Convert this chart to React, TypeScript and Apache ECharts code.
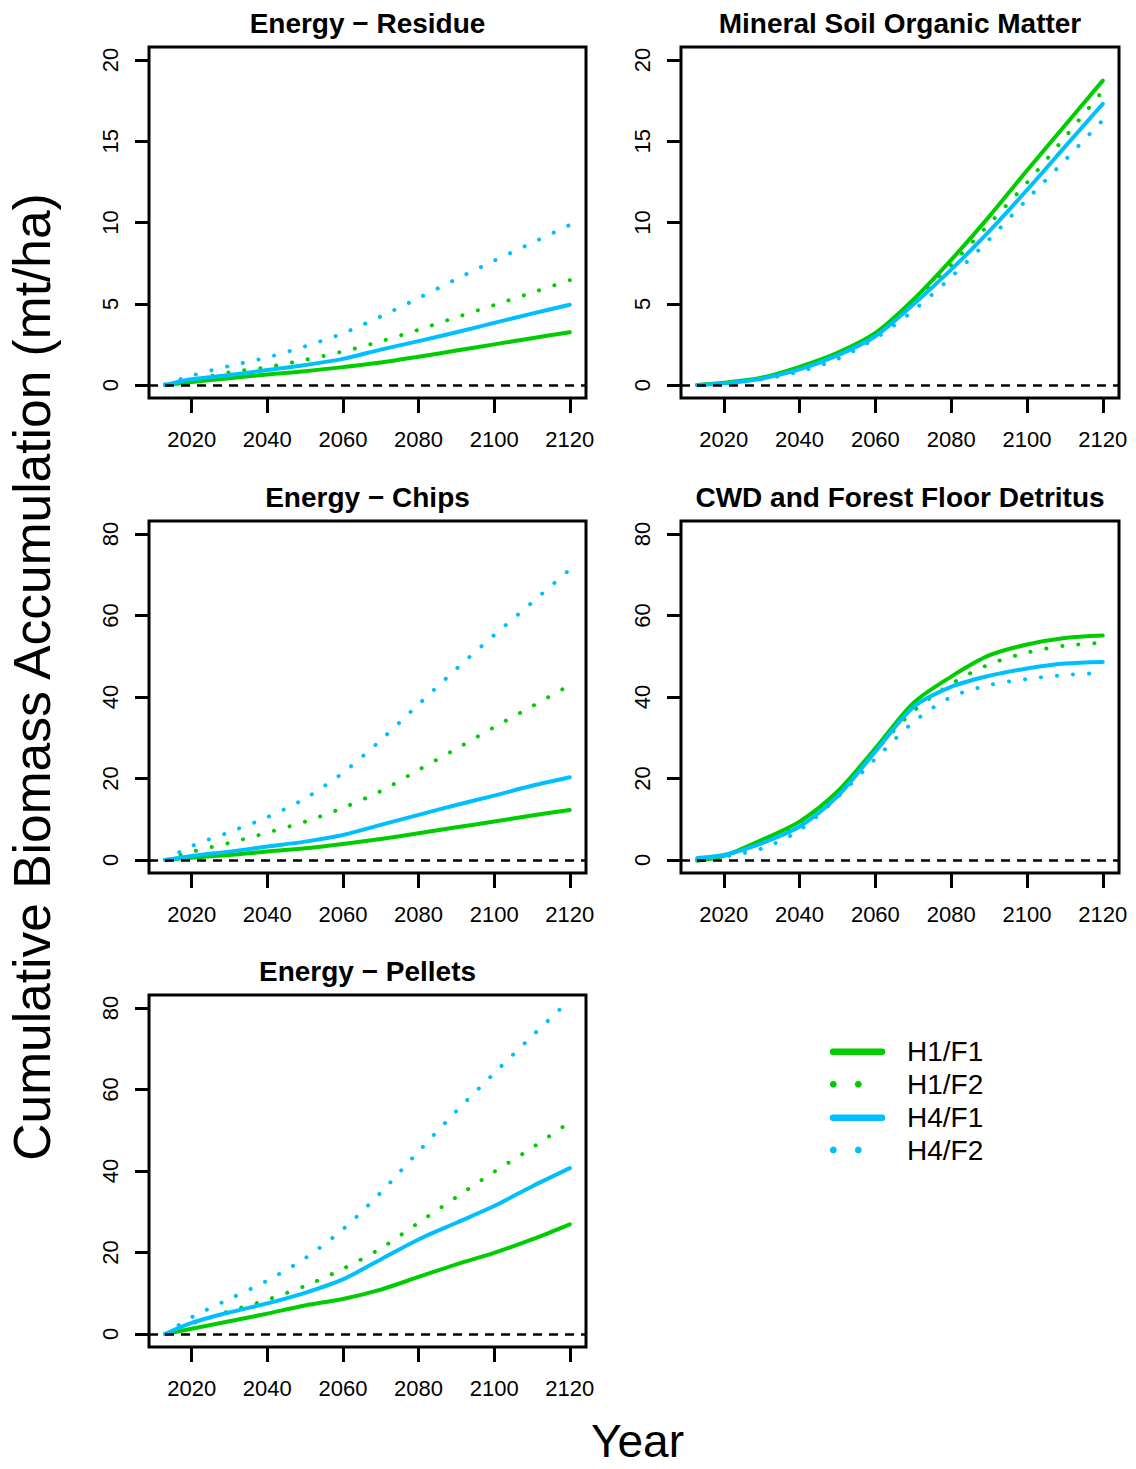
import React, { useEffect, useRef } from "react";
import * as echarts from "echarts";

// ---------- DATA ----------
const YEARS = [2013, 2020, 2030, 2040, 2050, 2060, 2070, 2080, 2090, 2100, 2110, 2120];
const X_TICKS = [2020, 2040, 2060, 2080, 2100, 2120];
const Y_TICKS_20 = [0, 5, 10, 15, 20];
const Y_TICKS_80 = [0, 20, 40, 60, 80];
const SERIES_NAMES = ["H1/F1", "H1/F2", "H4/F1", "H4/F2"];

const TITLES = [
  "Energy \u2212 Residue",
  "Mineral Soil Organic Matter",
  "Energy \u2212 Chips",
  "CWD and Forest Floor Detritus",
  "Energy \u2212 Pellets",
];

// Energy - Residue
const residueH1F1 = [0, 0.18, 0.42, 0.65, 0.85, 1.1, 1.38, 1.74, 2.12, 2.5, 2.88, 3.25];
const residueH1F2 = [0, 0.3, 0.78, 1.1, 1.55, 2.06, 2.69, 3.4, 4.17, 4.92, 5.68, 6.45];
const residueH4F1 = [0, 0.35, 0.61, 0.92, 1.23, 1.61, 2.18, 2.7, 3.25, 3.82, 4.39, 4.94];
const residueH4F2 = [0.05, 0.58, 1.17, 1.7, 2.38, 3.18, 4.22, 5.35, 6.52, 7.65, 8.75, 9.85];

// Mineral Soil Organic Matter
const soilH1F1 = [0, 0.14, 0.45, 1.12, 1.98, 3.2, 5.25, 7.7, 10.36, 13.2, 15.97, 18.73];
const soilH1F2 = [0, 0.12, 0.43, 1.08, 1.92, 3.1, 5.05, 7.4, 9.9, 12.45, 15.25, 18.1];
const soilH4F1 = [0, 0.1, 0.39, 0.96, 1.82, 3.0, 4.95, 7.1, 9.45, 12.0, 14.65, 17.3];
const soilH4F2 = [0, 0.08, 0.35, 0.82, 1.6, 2.87, 4.58, 6.64, 8.95, 11.42, 13.83, 16.3];

// Energy - Chips
const chipsH1F1 = [0, 0.57, 1.23, 2.05, 2.87, 3.93, 5.16, 6.55, 8.03, 9.42, 10.9, 12.28];
const chipsH1F2 = [0, 2.0, 4.2, 6.7, 9.4, 12.8, 16.9, 22.1, 27.3, 32.6, 37.7, 42.9];
const chipsH4F1 = [0, 0.98, 2.05, 3.28, 4.5, 6.14, 8.6, 11.06, 13.5, 15.8, 18.2, 20.3];
const chipsH4F2 = [0, 3.4, 6.85, 10.5, 15.1, 21.4, 29.4, 38.2, 46.9, 55.2, 63.2, 71.3];

// CWD and Forest Floor Detritus
const cwdH1F1 = [-0.2, 1.0, 4.9, 9.4, 16.8, 27.4, 38.5, 45.0, 50.2, 52.9, 54.5, 55.1];
const cwdH1F2 = [0, 0.8, 4.5, 9.2, 16.5, 26.8, 36.5, 43.2, 48.0, 50.9, 52.6, 53.3];
const cwdH4F1 = [0.5, 1.2, 4.1, 8.2, 15.6, 26.6, 37.5, 42.5, 45.2, 47.0, 48.2, 48.6];
const cwdH4F2 = [0, 0.8, 2.8, 7.3, 15.4, 24.8, 33.8, 40.0, 42.9, 44.4, 45.4, 45.9];

// Energy - Pellets
const pelletsH1F1 = [0, 1.3, 3.1, 5.0, 7.0, 8.6, 10.9, 14.0, 17.1, 19.9, 23.2, 26.9];
const pelletsH1F2 = [0, 2.5, 5.6, 8.4, 11.8, 16.0, 21.0, 27.3, 33.6, 39.8, 45.7, 52.0];
const pelletsH4F1 = [0, 2.7, 5.3, 7.5, 10.1, 13.4, 18.3, 23.2, 27.3, 31.4, 36.2, 40.7];
const pelletsH4F2 = [0, 4.1, 8.6, 13.1, 18.6, 25.7, 34.7, 44.8, 54.7, 64.0, 73.1, 82.0];

const PANEL_DATA = [
  [residueH1F1, residueH1F2, residueH4F1, residueH4F2],
  [soilH1F1, soilH1F2, soilH4F1, soilH4F2],
  [chipsH1F1, chipsH1F2, chipsH4F1, chipsH4F2],
  [cwdH1F1, cwdH1F2, cwdH4F1, cwdH4F2],
  [pelletsH1F1, pelletsH1F2, pelletsH4F1, pelletsH4F2],
];
const PANEL_YTICKS = [Y_TICKS_20, Y_TICKS_20, Y_TICKS_80, Y_TICKS_80, Y_TICKS_80];

// ---------- STYLE / LAYOUT ----------
const GREEN = "#00CD00";
const BLUE = "#00BFFF";
const SERIES_COLORS = [GREEN, GREEN, BLUE, BLUE];
const SERIES_DOTTED = [false, true, false, true];
const FONT = '"Liberation Sans", Arial, Helvetica, sans-serif';

const PANEL_BOXES = [
  { left: 149, top: 47, width: 437, height: 351 },
  { left: 681, top: 47, width: 438, height: 351 },
  { left: 149, top: 521, width: 437, height: 352 },
  { left: 681, top: 521, width: 438, height: 352 },
  { left: 149, top: 995, width: 437, height: 352 },
];
const TITLE_Y = [23.5, 23.5, 497.5, 497.5, 971.5];

const LEGEND_ROWS_Y = [1051.7, 1084.3, 1117.7, 1150];

function padRange(lo: number, hi: number) {
  const d = (hi - lo) * 0.04;
  return [lo - d, hi + d];
}

export default function App() {
  const ref = useRef<HTMLDivElement>(null);

  useEffect(() => {
    if (!ref.current) return;
    const chart = echarts.init(ref.current, undefined, { renderer: "svg" });

    const [xMin, xMax] = padRange(YEARS[0], YEARS[YEARS.length - 1]);

    const grids = PANEL_BOXES.map((b) => ({
      left: b.left,
      top: b.top,
      width: b.width,
      height: b.height,
      show: true,
      borderColor: "#000",
      borderWidth: 3,
      backgroundColor: "transparent",
      containLabel: false,
    }));

    const xAxes = PANEL_BOXES.map((_, i) => ({
      type: "value",
      gridIndex: i,
      min: xMin,
      max: xMax,
      splitLine: { show: false },
      axisLine: { show: false, onZero: false },
      axisTick: {
        show: true,
        length: 15,
        lineStyle: { color: "#000", width: 3 },
        customValues: X_TICKS,
      },
      axisLabel: {
        show: true,
        customValues: X_TICKS,
        formatter: (v: number) => String(Math.round(v)),
        fontSize: 22,
        fontFamily: FONT,
        color: "#000",
        margin: 30,
      },
    }));

    const yAxes = PANEL_BOXES.map((_, i) => {
      const ticks = PANEL_YTICKS[i];
      const [yMin, yMax] = padRange(ticks[0], ticks[ticks.length - 1]);
      return {
        type: "value",
        gridIndex: i,
        min: yMin,
        max: yMax,
        splitLine: { show: false },
        axisLine: { show: false, onZero: false },
        axisTick: {
          show: true,
          length: 14,
          lineStyle: { color: "#000", width: 3 },
          customValues: ticks,
        },
        axisLabel: {
          show: true,
          customValues: ticks,
          formatter: (v: number) => String(Math.round(v)),
          rotate: 90,
          fontSize: 22,
          fontFamily: FONT,
          color: "#000",
          margin: 28,
        },
      };
    });

    const series: any[] = [];
    PANEL_DATA.forEach((panel, i) => {
      panel.forEach((vals, k) => {
        const s: any = {
          type: "line",
          name: SERIES_NAMES[k],
          xAxisIndex: i,
          yAxisIndex: i,
          data: YEARS.map((yr, j) => [yr, vals[j]]),
          showSymbol: false,
          symbol: "none",
          smooth: 0.3,
          silent: true,
          z: 2,
          lineStyle: {
            color: SERIES_COLORS[k],
            width: 4,
            cap: "round",
            join: "round",
            type: SERIES_DOTTED[k] ? [0.1, 16] : "solid",
          },
        };
        if (k === 0) {
          s.markLine = {
            silent: true,
            symbol: ["none", "none"],
            label: { show: false },
            lineStyle: { color: "#000", width: 2.5, type: [9, 7] },
            data: [{ yAxis: 0 }],
            z: 5,
          };
        }
        series.push(s);
      });
    });

    const graphics: any[] = [];
    PANEL_BOXES.forEach((b, i) => {
      graphics.push({
        type: "text",
        x: b.left + b.width / 2,
        y: TITLE_Y[i],
        style: {
          text: TITLES[i],
          font: `bold 28px ${FONT}`,
          fill: "#000",
          textAlign: "center",
          textVerticalAlign: "middle",
        },
      });
    });

    graphics.push({
      type: "text",
      x: 32,
      y: 677,
      rotation: Math.PI / 2,
      style: {
        text: "Cumulative Biomass Accumulation (mt/ha)",
        font: `51.5px ${FONT}`,
        fill: "#000",
        textAlign: "center",
        textVerticalAlign: "middle",
      },
    });
    graphics.push({
      type: "text",
      x: 637.5,
      y: 1441,
      style: {
        text: "Year",
        font: `46px ${FONT}`,
        fill: "#000",
        textAlign: "center",
        textVerticalAlign: "middle",
      },
    });

    SERIES_NAMES.forEach((name, k) => {
      const y = LEGEND_ROWS_Y[k];
      const color = SERIES_COLORS[k];
      if (SERIES_DOTTED[k]) {
        graphics.push({ type: "circle", shape: { cx: 833.3, cy: y, r: 3.4 }, style: { fill: color } });
        graphics.push({ type: "circle", shape: { cx: 858.3, cy: y, r: 3.4 }, style: { fill: color } });
      } else {
        graphics.push({
          type: "line",
          shape: { x1: 833, y1: y, x2: 882, y2: y },
          style: { stroke: color, lineWidth: 6.5, lineCap: "round" },
        });
      }
      graphics.push({
        type: "text",
        x: 907,
        y: y,
        style: {
          text: name,
          font: `28px ${FONT}`,
          fill: "#000",
          textAlign: "left",
          textVerticalAlign: "middle",
        },
      });
    });

    chart.setOption({
      animation: false,
      backgroundColor: "#fff",
      grid: grids,
      xAxis: xAxes,
      yAxis: yAxes,
      series,
      graphic: graphics,
    });

    return () => chart.dispose();
  }, []);

  return (
    <div
      ref={ref}
      style={{ position: "absolute", left: 0, top: 0, width: 1136, height: 1469 }}
    />
  );
}
